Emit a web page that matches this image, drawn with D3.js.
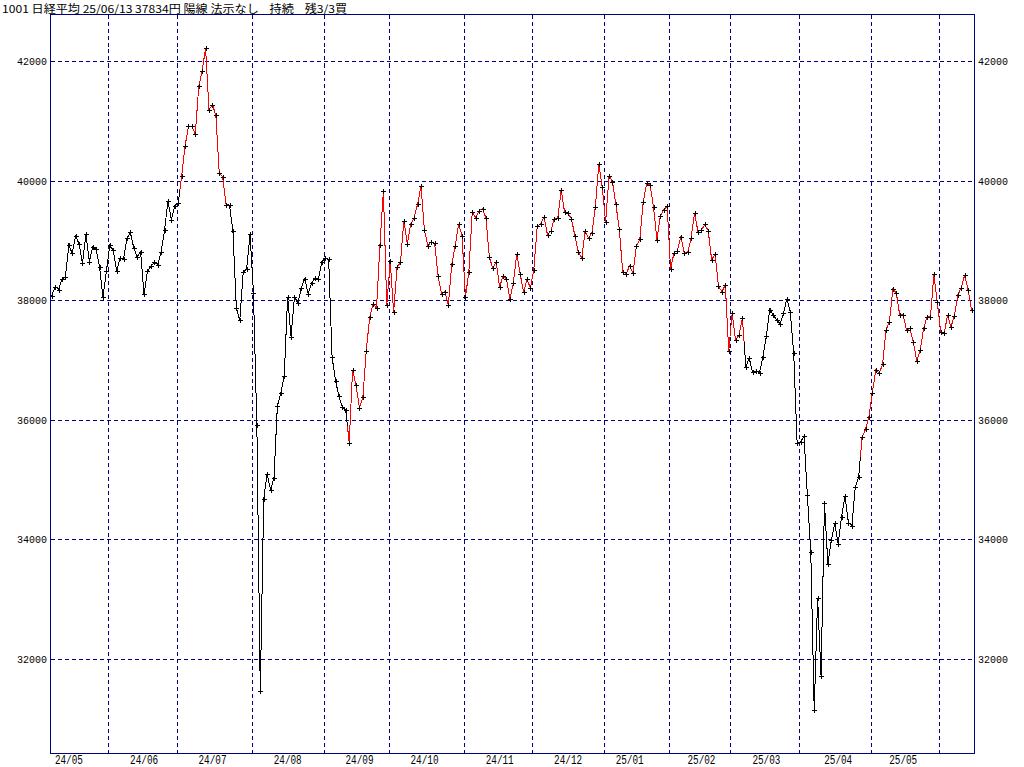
<!DOCTYPE html>
<html><head><meta charset="utf-8">
<script src="https://cdn.jsdelivr.net/npm/d3@7"></script>
<style>body{margin:0;background:#fff;overflow:hidden}svg{display:block}</style>
</head><body><svg id="c" width="1024" height="767"></svg>
<script>
const tradingDays = [
"24/05/09","24/05/10","24/05/13","24/05/14","24/05/15","24/05/16","24/05/17","24/05/20","24/05/21","24/05/22","24/05/23","24/05/24","24/05/27","24/05/28","24/05/29","24/05/30","24/05/31",
"24/06/03","24/06/04","24/06/05","24/06/06","24/06/07","24/06/10","24/06/11","24/06/12","24/06/13","24/06/14","24/06/17","24/06/18","24/06/19","24/06/20","24/06/21","24/06/24","24/06/25","24/06/26","24/06/27","24/06/28",
"24/07/01","24/07/02","24/07/03","24/07/04","24/07/05","24/07/08","24/07/09","24/07/10","24/07/11","24/07/12","24/07/16","24/07/17","24/07/18","24/07/19","24/07/22","24/07/23","24/07/24","24/07/25","24/07/26","24/07/29","24/07/30","24/07/31",
"24/08/01","24/08/02","24/08/05","24/08/06","24/08/07","24/08/08","24/08/09","24/08/13","24/08/14","24/08/15","24/08/16","24/08/19","24/08/20","24/08/21","24/08/22","24/08/23","24/08/26","24/08/27","24/08/28","24/08/29","24/08/30",
"24/09/02","24/09/03","24/09/04","24/09/05","24/09/06","24/09/09","24/09/10","24/09/11","24/09/12","24/09/13","24/09/17","24/09/18","24/09/19","24/09/20","24/09/24","24/09/25","24/09/26","24/09/27","24/09/30",
"24/10/01","24/10/02","24/10/03","24/10/04","24/10/07","24/10/08","24/10/09","24/10/10","24/10/11","24/10/15","24/10/16","24/10/17","24/10/18","24/10/21","24/10/22","24/10/23","24/10/24","24/10/25","24/10/28","24/10/29","24/10/30","24/10/31",
"24/11/01","24/11/05","24/11/06","24/11/07","24/11/08","24/11/11","24/11/12","24/11/13","24/11/14","24/11/15","24/11/18","24/11/19","24/11/20","24/11/21","24/11/22","24/11/25","24/11/26","24/11/27","24/11/28","24/11/29",
"24/12/02","24/12/03","24/12/04","24/12/05","24/12/06","24/12/09","24/12/10","24/12/11","24/12/12","24/12/13","24/12/16","24/12/17","24/12/18","24/12/19","24/12/20","24/12/23","24/12/24","24/12/25","24/12/26","24/12/27","24/12/30",
"25/01/06","25/01/07","25/01/08","25/01/09","25/01/10","25/01/14","25/01/15","25/01/16","25/01/17","25/01/20","25/01/21","25/01/22","25/01/23","25/01/24","25/01/27","25/01/28","25/01/29","25/01/30","25/01/31",
"25/02/03","25/02/04","25/02/05","25/02/06","25/02/07","25/02/10","25/02/12","25/02/13","25/02/14","25/02/17","25/02/18","25/02/19","25/02/20","25/02/21","25/02/25","25/02/26","25/02/27","25/02/28",
"25/03/03","25/03/04","25/03/05","25/03/06","25/03/07","25/03/10","25/03/11","25/03/12","25/03/13","25/03/14","25/03/17","25/03/18","25/03/19","25/03/21","25/03/24","25/03/25","25/03/26","25/03/27","25/03/28","25/03/31",
"25/04/01","25/04/02","25/04/03","25/04/04","25/04/07","25/04/08","25/04/09","25/04/10","25/04/11","25/04/14","25/04/15","25/04/16","25/04/17","25/04/18","25/04/21","25/04/22","25/04/23","25/04/24","25/04/25","25/04/28","25/04/30",
"25/05/01","25/05/02","25/05/07","25/05/08","25/05/09","25/05/12","25/05/13","25/05/14","25/05/15","25/05/16","25/05/19","25/05/20","25/05/21","25/05/22","25/05/23","25/05/26","25/05/27","25/05/28","25/05/29","25/05/30",
"25/06/02","25/06/03","25/06/04","25/06/05","25/06/06","25/06/09","25/06/10","25/06/11","25/06/12","25/06/13"];

const closes = [
38073.98,38229.11,38179.46,38356.06,38385.73,38920.26,38787.38,39069.68,38946.93,38617.10,39103.22,38646.11,38900.02,38855.37,38556.87,38054.13,38487.90,
38923.03,38837.46,38490.17,38703.51,38683.93,39038.16,39134.79,38876.71,38720.47,38814.56,38102.44,38482.11,38570.76,38633.02,38596.47,38804.65,39173.15,39667.07,39341.54,39583.08,
39631.06,40074.69,40580.76,40913.65,40912.37,40780.70,41580.17,41831.99,42224.02,41190.68,41275.08,41097.69,40126.35,40063.79,39599.00,39594.39,39154.85,37869.51,37667.41,38468.63,38525.95,39101.82,
38126.33,35909.70,31458.42,34675.46,35089.62,34831.15,35025.00,36232.51,36442.43,36726.64,38062.67,37388.62,38062.92,37951.80,38211.01,38364.27,38110.22,38288.62,38371.76,38362.53,38647.75,
38700.87,38686.31,37047.61,36657.09,36391.47,36215.75,36159.16,35619.77,36833.27,36581.76,36203.22,36380.17,37155.33,37723.91,37940.59,37870.26,38925.63,39829.56,37919.55,
38651.97,37808.76,38552.06,38635.62,39332.74,38937.54,39277.96,39380.89,39605.80,39910.55,39180.30,38911.19,38981.75,38954.60,38411.96,38104.86,38143.29,37913.92,38605.53,38903.68,39277.39,39081.25,
38053.67,38474.90,39480.67,39381.41,39500.37,39533.32,39376.09,38721.66,38535.70,38642.91,38220.85,38414.43,38352.34,38026.17,38283.85,38780.14,38442.00,38134.97,38349.06,38208.03,
38513.02,39248.86,39276.39,39395.60,39091.17,39160.50,39367.58,39372.23,39849.14,39470.44,39457.49,39364.68,39081.71,38813.58,38701.90,39161.34,39036.85,39130.43,39568.06,40281.16,39894.54,
39307.05,40083.30,39981.06,39605.09,39190.40,38474.30,38444.58,38572.60,38451.46,38902.50,39027.98,39646.25,39958.87,39931.98,39565.80,39016.87,39414.78,39513.97,39572.49,
38520.09,38798.37,38831.48,39066.53,38787.02,38801.17,39043.01,39461.47,39149.43,39174.25,39270.40,39164.61,38678.04,38776.94,38237.79,38142.37,38256.17,37155.50,
37785.47,37331.18,37418.24,37704.93,36887.17,37028.27,36793.11,36819.09,36790.03,37053.10,37396.52,37845.42,37751.88,37677.06,37608.49,37780.54,38027.29,37799.97,37120.33,35617.56,
35624.48,35725.87,34735.93,33780.58,31136.58,33012.58,31714.03,34609.00,33585.58,33982.36,34267.54,33920.40,34377.60,34730.28,34279.92,34220.60,34868.63,35039.15,35705.74,35839.99,36045.38,
36452.30,36830.69,36779.66,36928.63,37503.33,37644.26,38183.26,38128.13,37755.51,37753.72,37498.63,37529.49,37298.98,36985.87,37160.47,37531.53,37724.11,37722.40,38432.98,37965.10,
37470.67,37446.81,37747.45,37554.49,37741.61,38088.57,38211.51,38421.19,38173.09,37834.25];

// periods drawn in red (buy signal held)
const redSpans = [["24/07/02","24/07/22"],["24/09/11","25/03/06"],["25/04/25","25/06/13"]];
const yTicks = [32000,34000,36000,38000,40000,42000];
const monthLabels = ["24/05","24/06","24/07","24/08","24/09","24/10","24/11","24/12","25/01","25/02","25/03","25/04","25/05"];
const titleText = "1001 日経平均 25/06/13 37834円 陽線 法示なし    持続    残3/3買";

const L = 50.5, R = 974.5, T = 14.5, B = 753.5;
const NAVY = "#000080";
const svg = d3.select("#c");

const x = d3.scalePoint().domain(tradingDays).range([51.7, 971.5]);
const y = d3.scaleLinear().domain([32000, 42000]).range([658.8, 61.3]);

// grid
const grid = svg.append("g").attr("stroke", NAVY).attr("stroke-dasharray", "4,3")
  .attr("shape-rendering", "crispEdges");
grid.selectAll("line.h").data(yTicks).join("line")
  .attr("x1", L).attr("x2", R)
  .attr("y1", d => Math.round(y(d)) + 0.5).attr("y2", d => Math.round(y(d)) + 0.5);

const monthStarts = [];
tradingDays.forEach((d, i) => {
  if (i > 0 && d.slice(0, 5) !== tradingDays[i - 1].slice(0, 5)) monthStarts.push(i);
});
const step = x.step();
grid.selectAll("line.v").data(monthStarts).join("line")
  .attr("y1", T).attr("y2", B)
  .attr("x1", i => Math.round(x(tradingDays[i]) - step / 2) + 0.5)
  .attr("x2", i => Math.round(x(tradingDays[i]) - step / 2) + 0.5);

// price line, each point colouring the half segments around it
const isRed = d => redSpans.some(([a, b]) => d >= a && d <= b);
const pts = tradingDays.map((d, i) => ({ d, px: x(d), py: y(closes[i]), red: isRed(d) }));
const lineG = svg.append("g").attr("fill", "none").attr("stroke-width", 1)
  .attr("shape-rendering", "crispEdges");
pts.forEach((p, i) => {
  const prev = pts[i - 1], next = pts[i + 1];
  const seg = [];
  if (prev) seg.push([(prev.px + p.px) / 2, (prev.py + p.py) / 2]);
  seg.push([p.px, p.py]);
  if (next) seg.push([(next.px + p.px) / 2, (next.py + p.py) / 2]);
  lineG.append("path").attr("d", d3.line()(seg)).attr("stroke", p.red ? "#ff0000" : "#000000");
});

// cross markers
svg.append("g").attr("stroke", "#000").attr("shape-rendering", "crispEdges")
  .selectAll("path").data(pts).join("path")
  .attr("d", p => {
    const cx = Math.round(p.px), cy = Math.round(p.py);
    return `M${cx - 2},${cy + 0.5}H${cx + 3}M${cx + 0.5},${cy - 2}V${cy + 3}`;
  });

// frame
svg.append("rect").attr("x", L).attr("y", T).attr("width", R - L).attr("height", B - T)
  .attr("fill", "none").attr("stroke", NAVY).attr("shape-rendering", "crispEdges");

// y labels
const font = "'Liberation Mono','DejaVu Sans Mono',monospace";
const yl = svg.append("g").attr("font-family", font).attr("font-size", 11).attr("fill", "#000");
yl.selectAll("text.l").data(yTicks).join("text")
  .attr("x", 47).attr("y", d => y(d) + 4).attr("text-anchor", "end")
  .attr("textLength", 30).attr("lengthAdjust", "spacingAndGlyphs").text(d => d);
yl.selectAll("text.r").data(yTicks).join("text").attr("class", "r")
  .attr("x", 978).attr("y", d => y(d) + 4)
  .attr("textLength", 30).attr("lengthAdjust", "spacingAndGlyphs").text(d => d);

// x labels: centred near mid-month
const labelIdx = monthLabels.map(m => {
  let idx = -1;
  tradingDays.forEach((d, i) => {
    if (d.slice(0, 5) === m && +d.slice(6) <= 15) idx = i;
  });
  return idx;
});
svg.append("g").attr("font-family", font).attr("font-size", 12).attr("fill", "#000")
  .selectAll("text").data(monthLabels).join("text")
  .attr("x", (m, k) => x(tradingDays[labelIdx[k]]) + 3.5).attr("y", 764)
  .attr("text-anchor", "middle").attr("textLength", 28).attr("lengthAdjust", "spacingAndGlyphs")
  .text(m => m);

// title
svg.append("text").attr("x", 2).attr("y", 13)
  .attr("font-family", "'Noto Sans CJK JP',sans-serif").attr("font-size", 11)
  .style("white-space", "pre").attr("textLength", 345).attr("lengthAdjust", "spacingAndGlyphs")
  .text(titleText);
</script></body></html>
